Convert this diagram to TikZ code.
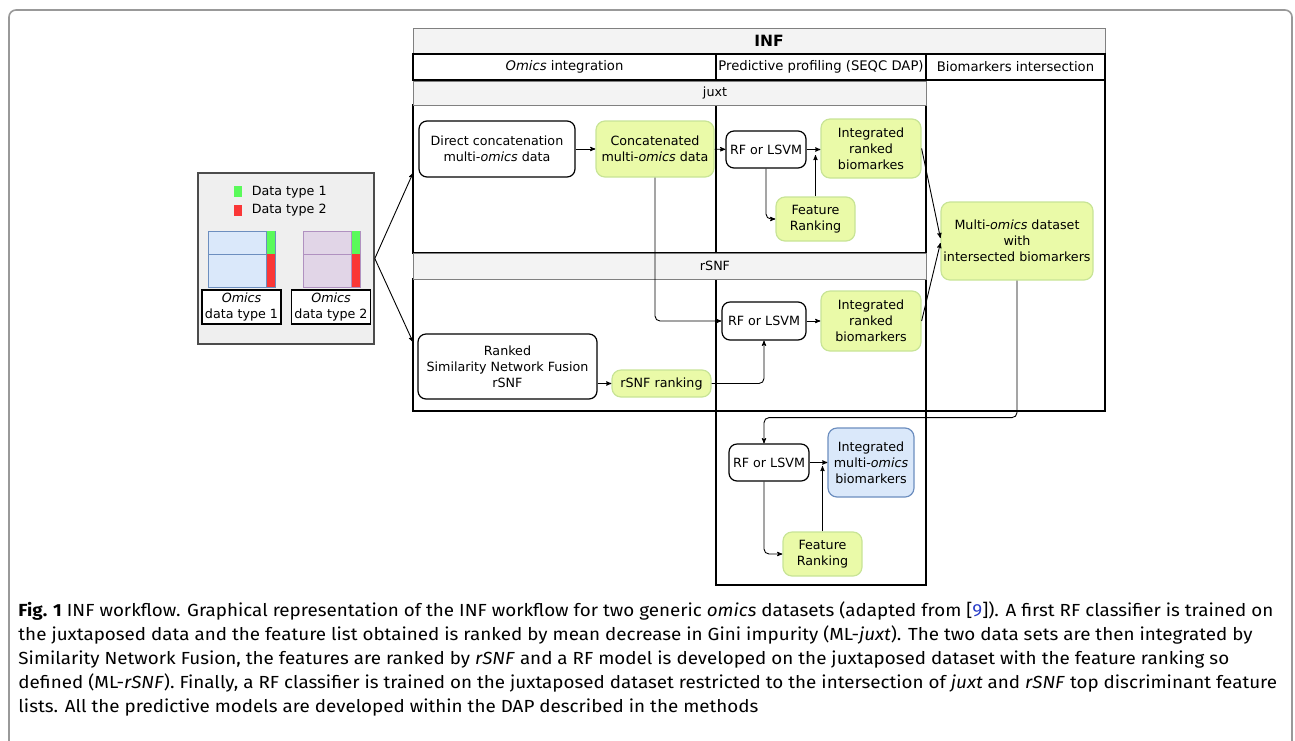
\documentclass[tikz,border=0pt]{standalone}
\usepackage{fontspec}
\setmainfont{DejaVu Sans}
\newfontfamily\capfont[FakeStretch=1.075]{Fira Sans}
\usetikzlibrary{arrows,positioning,shapes}
\usepackage{xcolor}
\definecolor{greenfill}{RGB}{234,250,168}
\definecolor{greenline}{RGB}{200,228,150}
\definecolor{bluefill}{RGB}{218,232,250}
\definecolor{blueline}{RGB}{108,142,191}
\definecolor{purplefill}{RGB}{225,213,231}
\definecolor{purpleline}{RGB}{176,145,192}
\definecolor{bandfill}{RGB}{243,243,243}
\definecolor{panelfill}{RGB}{239,239,239}
\definecolor{typeone}{RGB}{90,250,90}
\definecolor{typetwo}{RGB}{250,55,55}
\definecolor{citeblue}{RGB}{40,60,200}

\begin{document}
\begin{tikzpicture}[x=1pt,y=-1pt,->,>=stealth',line width=0.9pt,
      font=\fontsize{12.7}{16}\selectfont,
      main node/.style={rectangle,rounded corners=8,draw,line width=1.2pt,
          align=center,inner sep=0pt},
      green node/.style={main node,rounded corners=9,fill=greenfill,draw=greenline},
      blue node/.style={main node,rounded corners=9,fill=bluefill,draw=blueline},
      band node/.style={rectangle,draw=gray,fill=bandfill,line width=1pt,inner sep=0pt},
      cell node/.style={rectangle,draw,line width=1.2pt,inner sep=0pt,minimum height=26,
          font=\fontsize{13.2}{16}\selectfont},
      label node/.style={rectangle,draw,fill=white,line width=1.2pt,inner sep=0pt,
          align=center,minimum width=79,minimum height=34},
      box/.style={-,draw,line width=1.2pt}]

    \useasboundingbox (0,0) rectangle (1295,740);
    \draw[-,line width=1.6pt,draw=gray!80,rounded corners=7]
      (9,760) -- (9,10) -- (1292,10) -- (1292,760);

    % INF table
    \node[band node,minimum width=692,minimum height=26,
      label={[xshift=10pt,font=\bfseries\fontsize{15.5}{18}\selectfont]center:INF}] (inf) at (759,41) {};
    \node[cell node,minimum width=303] (oi) at (564.5,67) {\emph{Omics} integration};
    \node[cell node,minimum width=210] (pp) at (821,67) {Predictive profiling (SEQC DAP)};
    \node[cell node,minimum width=179] (bi) at (1015.5,67) {Biomarkers intersection};
    \draw[box] (926,80) rectangle (1105,411);
    \draw[box] (413,105) rectangle (716,253) (716,105) rectangle (926,253);
    \draw[box] (413,279) rectangle (716,411) (716,279) rectangle (926,411);
    \draw[box] (716,411) rectangle (926,585);
    \node[band node,minimum width=513,minimum height=24,
      label={[xshift=45.5pt]center:juxt}] (juxt) at (669.5,93) {};
    \node[band node,minimum width=513,minimum height=26,
      label={[xshift=45.5pt]center:rSNF}] (rsnf) at (669.5,266) {};

    % input data
    \node[rectangle,draw=black!70,fill=panelfill,line width=1.6pt,
      minimum width=176,minimum height=171] (omics) at (286,258.5) {};
    \node[fill=typeone,minimum width=8,minimum height=11,inner sep=0pt] (leg1) at (238,191.5) {};
    \node[anchor=west] (t1) at (248,192) {Data type 1};
    \node[fill=typetwo,minimum width=8,minimum height=11,inner sep=0pt] (leg2) at (238,210.5) {};
    \node[anchor=west] (t2) at (248,210) {Data type 2};
    \draw[box,line width=0.9pt,fill=bluefill,draw=blueline] (208,231) rectangle (275,287);
    \fill[typeone] (266,231) rectangle (275,254);
    \fill[typetwo] (266,254) rectangle (275,287);
    \draw[box,line width=0.9pt,draw=blueline] (208,254) -- (266,254) (266,231) -- (266,287);
    \draw[box,line width=0.9pt,fill=purplefill,draw=purpleline] (303,231) rectangle (360,287);
    \fill[typeone] (351,231) rectangle (360,254);
    \fill[typetwo] (351,254) rectangle (360,287);
    \draw[box,line width=0.9pt,draw=purpleline] (303,254) -- (351,254) (351,231) -- (351,287);
    \node[label node] (d1) at (241.5,307) {\emph{Omics}\\data type 1};
    \node[label node] (d2) at (331,307) {\emph{Omics}\\data type 2};

    % juxt
    \node[main node,minimum width=156,minimum height=56] (dc) at (497,149) {Direct concatenation\\multi-\emph{omics} data};
    \node[green node,minimum width=118,minimum height=56] (cat) at (655,149) {Concatenated\\multi-\emph{omics} data};
    \node[main node,minimum width=80,minimum height=37] (rfj) at (766,149.5) {RF or LSVM};
    \node[green node,minimum width=100,minimum height=59] (irj) at (871,148.5) {Integrated\\ranked\\biomarkes};
    \node[green node,minimum width=79,minimum height=44] (frj) at (815.5,219) {Feature\\Ranking};

    % rSNF
    \node[main node,minimum width=179,minimum height=65] (snf) at (507.5,366.5) {Ranked\\Similarity Network Fusion\\rSNF};
    \node[green node,minimum width=99,minimum height=27] (rank) at (661.5,383.5) {rSNF ranking};
    \node[main node,minimum width=84,minimum height=38] (rfr) at (764,321) {RF or LSVM};
    \node[green node,minimum width=100,minimum height=60] (irr) at (871,321) {Integrated\\ranked\\biomarkers};

    \node[green node,minimum width=152,minimum height=78] (multi) at (1017,241) {Multi-\emph{omics} dataset\\with\\intersected biomarkers};

    % final model
    \node[main node,minimum width=80,minimum height=37] (rfb) at (769,462.5) {RF or LSVM};
    \node[blue node,minimum width=86,minimum height=69] (imb) at (871,462.5) {Integrated\\multi-\emph{omics}\\biomarkers};
    \node[green node,minimum width=79,minimum height=44] (frb) at (822.5,554) {Feature\\Ranking};

    \coordinate (jin) at (413,173);
    \coordinate (rin) at (413,342);

    \path (omics.east) edge (jin) edge (rin)
    (dc) edge (cat)
    (cat) edge (rfj)
    (rfj.east) edge (rfj.east -| irj.west)
    (snf.east |- rank.west) edge (rank)
    (rfr) edge (irr)
    (rfb.east) edge (rfb.east -| imb.west)
    (irj.east) edge ([yshift=3pt]multi.west)
    (irr.east) edge ([yshift=-2pt]multi.west);

    \draw[rounded corners=5] (rfj.south) |- (frj.west);
    \draw[shorten >=6.5pt] (frj.north) -- (frj.north |- irj.west);
    \draw[rounded corners=5] (cat.south) |- (rfr.west);
    \draw[rounded corners=5] (rank.east) -| (rfr.south);
    \draw[rounded corners=5] (multi.south) -- ++(0,137) -| ([xshift=-5pt]rfb.north);
    \draw[rounded corners=5] ([xshift=-5pt]rfb.south) |- (frb.west);
    \draw[shorten >=3.5pt] (frb.north) -- (frb.north |- imb.west);

    % caption
    \node[anchor=north west,align=left,inner sep=0pt,
      font=\capfont\fontsize{17.5}{24}\selectfont] (caption) at (18,601)
      {\textbf{Fig. 1} INF workflow. Graphical representation of the INF workflow for two generic \emph{omics} datasets (adapted from [\textcolor{citeblue}{9}]). A first RF classifier is trained on\\
       the juxtaposed data and the feature list obtained is ranked by mean decrease in Gini impurity (ML-\emph{juxt}). The two data sets are then integrated by\\
       Similarity Network Fusion, the features are ranked by \emph{rSNF} and a RF model is developed on the juxtaposed dataset with the feature ranking so\\
       defined (ML-\emph{rSNF}). Finally, a RF classifier is trained on the juxtaposed dataset restricted to the intersection of \emph{juxt} and \emph{rSNF} top discriminant feature\\
       lists. All the predictive models are developed within the DAP described in the methods};
\end{tikzpicture}
\end{document}
